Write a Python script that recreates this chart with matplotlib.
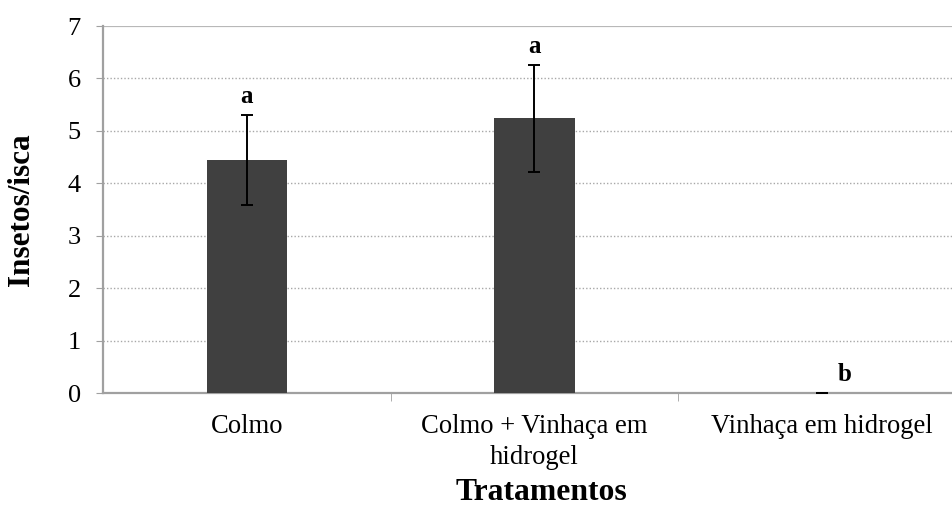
import numpy as np
import matplotlib
matplotlib.use("Agg")
import matplotlib.pyplot as plt

# mean insects per bait, standard error and significance letters
tratamentos = ["Colmo", "Colmo + Vinhaça em\nhidrogel", "Vinhaça em hidrogel"]
media = [4.44, 5.24, 0.0]
erro = [0.86, 1.02, 0.0]
letras = ["a", "a", "b"]
letra_dx = [0.0, 0.0, 0.08]

plt.rcParams["font.family"] = ["Liberation Serif", "DejaVu Serif"]

W, H = 952, 517
fig = plt.figure(figsize=(W / 100, H / 100), dpi=100)
# axes run a bit past the right edge of the figure
ax = fig.add_axes([103 / W, 124 / H, 862.5 / W, 367 / H])

x = np.arange(len(tratamentos))
ax.bar(x, media, width=0.28, color="#404040", zorder=3)
ax.errorbar(x, media, yerr=erro, fmt="none", ecolor="black", elinewidth=1.4,
            capsize=4.6, capthick=1.4, zorder=4)
for xi, m, e, l, dx in zip(x, media, erro, letras, letra_dx):
    ax.text(xi + dx, m + e + 0.35, l, ha="center", va="center",
            fontsize=18, fontweight="bold")

ax.set_xlim(-0.5, 2.5)
ax.set_ylim(0, 7)
ax.set_yticks(range(8))
ax.tick_params(axis="y", labelsize=19, length=5, color="#A0A0A0", pad=11)
ax.set_xticks(x)
ax.set_xticklabels(tratamentos, fontsize=19.2, linespacing=1.3)
ax.tick_params(axis="x", length=0, pad=15)
ax.set_xticks([0.5, 1.5], minor=True)
ax.tick_params(axis="x", which="minor", length=6, color="#A0A0A0")

for v in range(1, 7):
    ax.axhline(v, color="#A8A8A8", lw=1.0, ls=(0, (1, 1.5)), zorder=1)
ax.axhline(7, color="#B8B8B8", lw=1.6, zorder=1)

for s in ["top", "right"]:
    ax.spines[s].set_visible(False)
for s in ["left", "bottom"]:
    ax.spines[s].set_color("#A0A0A0")
    ax.spines[s].set_linewidth(1.6)

ax.set_ylabel("Insetos/isca", fontsize=22.5, fontweight="bold")
ax.yaxis.set_label_coords((22 - 103) / 862.5, 0.5)
ax.set_xlabel("Tratamentos", fontsize=22.8, fontweight="bold")
ax.xaxis.set_label_coords((541 - 103) / 862.5, -(492 - 393) / 367)
ax.xaxis.label.set_va("center")
ax.yaxis.label.set_va("center")

fig.savefig("out.png", dpi=100)
